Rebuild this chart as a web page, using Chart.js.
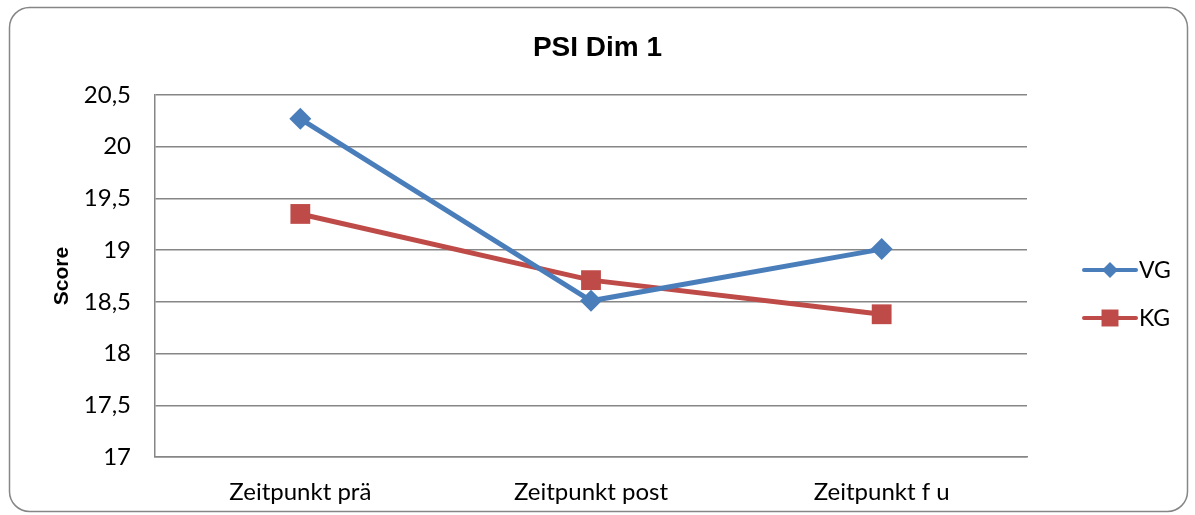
<!DOCTYPE html>
<html>
<head>
<meta charset="utf-8">
<script src="https://cdn.jsdelivr.net/npm/chart.js@4"></script>
<style>
  html, body { margin: 0; padding: 0; background: #fff; }
  #wrap { width: 1195px; height: 515px; }
</style>
</head>
<body>
<div id="wrap"><canvas id="psi"></canvas></div>
<script>
// Werte
const zeitpunkte = ["Zeitpunkt prä", "Zeitpunkt post", "Zeitpunkt f u"];
const werteVG = [20.27, 18.51, 19.01];
const werteKG = [19.35, 18.71, 18.38];
const gruppen = ["VG", "KG"];
const titel = "PSI Dim 1";

const FONT = "Lato, 'Open Sans', sans-serif";
const FONT_BOLD = "Arial, 'Liberation Sans', sans-serif";
const grau = "#868686";

// Rahmen mit runden Ecken + Titel mittig über der ganzen Fläche
const rahmen = {
  id: "rahmen",
  beforeDraw(chart) {
    const ctx = chart.ctx;
    ctx.save();
    ctx.fillStyle = "#fff";
    ctx.fillRect(0, 0, chart.width, chart.height);
    ctx.strokeStyle = grau;
    ctx.lineWidth = 1.5;
    ctx.beginPath();
    ctx.roundRect(9.5, 7.5, 1178, 504, 20);
    ctx.stroke();
    ctx.fillStyle = "#000";
    ctx.font = "bold 28px " + FONT_BOLD;
    ctx.textAlign = "center";
    ctx.textBaseline = "middle";
    ctx.fillText(titel, chart.width / 2, 48);
    ctx.restore();
  }
};

// Legende rechts, Linie mit Marker wie in Excel
const legende = {
  id: "legende",
  afterDraw(chart) {
    const ctx = chart.ctx;
    const x0 = 1084, x1 = 1136;
    ctx.save();
    chart.data.datasets.forEach((ds, i) => {
      const y = 270 + i * 48;
      ctx.strokeStyle = ds.borderColor;
      ctx.lineWidth = 4;
      ctx.lineCap = "round";
      ctx.beginPath();
      ctx.moveTo(x0, y);
      ctx.lineTo(x1, y);
      ctx.stroke();
      ctx.fillStyle = ds.backgroundColor;
      Chart.helpers.drawPoint(ctx, {
        pointStyle: ds.pointStyle,
        radius: ds.pointStyle === "rect" ? 12 : 8,
        rotation: 0,
        borderWidth: 0
      }, (x0 + x1) / 2, y);
      ctx.fillStyle = "#000";
      ctx.font = "23px " + FONT;
      ctx.textBaseline = "middle";
      ctx.textAlign = "left";
      ctx.fillText(ds.label, 1139, y + 1);
    });
    ctx.restore();
  }
};

new Chart(document.getElementById("psi"), {
  type: "line",
  data: {
    labels: zeitpunkte,
    datasets: [
      {
        label: gruppen[0],
        data: werteVG,
        borderColor: "#4A7EBB",
        backgroundColor: "#4A7EBB",
        borderWidth: 5,
        pointStyle: "rectRot",
        pointRadius: 11,
        pointHoverRadius: 11,
        pointBorderWidth: 0
      },
      {
        label: gruppen[1],
        data: werteKG,
        borderColor: "#BE4B48",
        backgroundColor: "#BE4B48",
        borderWidth: 5,
        pointStyle: "rect",
        pointRadius: 14,
        pointHoverRadius: 14,
        pointBorderWidth: 0
      }
    ]
  },
  options: {
    responsive: true,
    maintainAspectRatio: false,
    animation: false,
    layout: { padding: { left: 10, right: 168, top: 95, bottom: 0 } },
    plugins: {
      legend: { display: false },
      tooltip: { enabled: false },
      title: { display: false }
    },
    scales: {
      x: {
        offset: true,
        grid: { display: false, drawTicks: false },
        border: { display: true, color: grau, width: 1.5 },
        ticks: { color: "#000", font: { family: FONT, size: 24 }, padding: 21, maxRotation: 0 },
        afterFit(scale) { scale.height = 58; }
      },
      y: {
        min: 17,
        max: 20.5,
        ticks: {
          stepSize: 0.5,
          color: "#000",
          font: { family: FONT, size: 24 },
          padding: 24,
          callback: v => String(v).replace(".", ",")
        },
        grid: { color: grau, lineWidth: 1.5, drawTicks: false },
        border: { display: true, color: grau, width: 1.5 },
        title: {
          display: true,
          text: "Score",
          color: "#000",
          font: { family: FONT_BOLD, size: 21, weight: "bold" },
          padding: { top: 40, bottom: 0 }
        },
        afterFit(scale) { scale.width = 145; }
      }
    }
  },
  plugins: [rahmen, legende]
});
</script>
</body>
</html>
